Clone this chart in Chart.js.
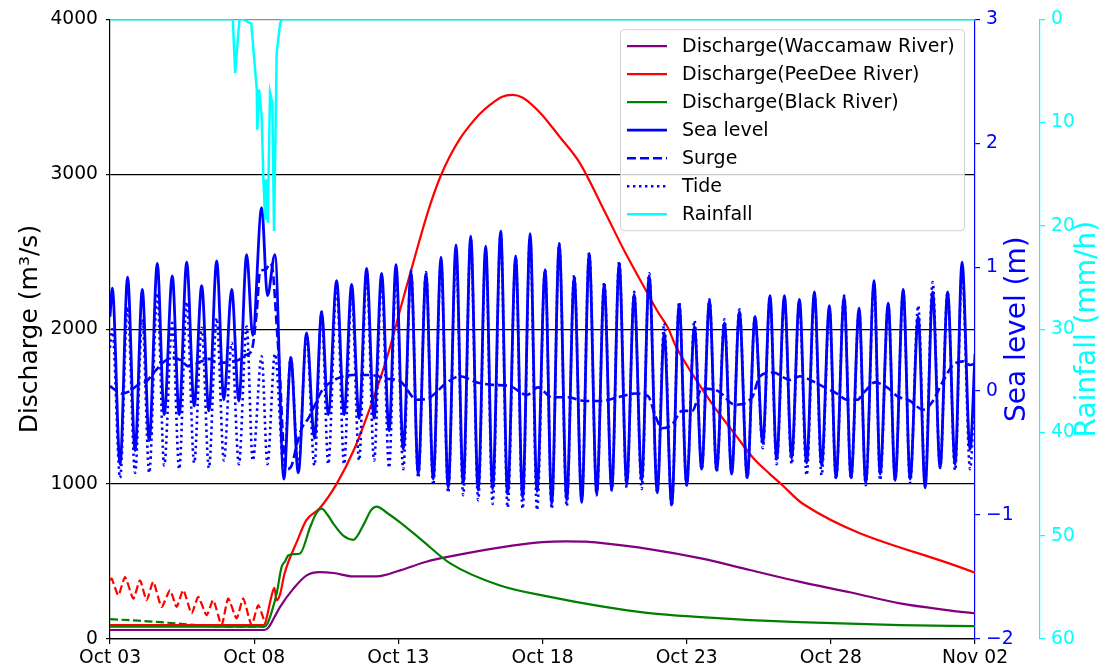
<!DOCTYPE html>
<html>
<head>
<meta charset="utf-8">
<script src="https://cdn.jsdelivr.net/npm/chart.js@4.4.1/dist/chart.umd.min.js"></script>
<style>
  html, body { margin: 0; padding: 0; background: #fff; }
  canvas { display: block; }
</style>
</head>
<body>
<canvas id="chart" width="1105" height="671"></canvas>
<script>
// Time axis: days after Oct 03 00:00
const xTickLabels = ['Oct 03', 'Oct 08', 'Oct 13', 'Oct 18', 'Oct 23', 'Oct 28', 'Nov 02'];

// River discharge (m3/s)
const waccT = [0, 5.35, 5.5, 5.7, 5.9, 6.36, 6.82, 7.28, 7.75, 8.44, 9.25, 10.06, 11.0, 11.8, 13.5, 15.0, 15.8, 16.5, 17.0, 18.7, 20.5, 22.2, 23.9, 25.7, 27.4, 29.1, 30];
const waccV = [58, 58, 75, 140, 207, 325, 411, 432, 426, 404, 404, 443, 500, 533, 590, 625, 630, 628, 620, 580, 520, 445, 370, 300, 230, 185, 165];

const peeDeeT = [0, 5.35, 5.45, 5.58, 5.70, 5.78, 5.90, 6.05, 6.50, 6.80, 7.28, 7.86, 8.44, 9.02, 9.60, 10.17, 10.75, 11.10, 11.45, 11.80, 12.14, 12.50, 12.83, 13.20, 13.60, 13.95, 14.30, 14.90, 15.60, 16.30, 17.17, 17.86, 18.55, 19.00, 19.36, 19.60, 20.29, 20.98, 21.68, 22.30, 22.89, 23.34, 24.04, 30];
const peeDeeV = [90, 90, 150, 260, 330, 250, 290, 420, 636, 764, 845, 1001, 1213, 1492, 1813, 2198, 2583, 2800, 2980, 3120, 3230, 3320, 3390, 3450, 3500, 3512, 3495, 3400, 3240, 3070, 2754, 2497, 2262, 2112, 2005, 1899, 1684, 1492, 1321, 1170, 1064, 989, 871, 427];

const peeDeeDashT = [0, 0.06, 0.29, 0.52, 0.81, 1.04, 1.27, 1.50, 1.79, 2.08, 2.31, 2.54, 2.83, 3.06, 3.35, 3.58, 3.87, 4.10, 4.39, 4.62, 4.91, 5.14, 5.38];
const peeDeeDashV = [380, 390, 282, 400, 261, 379, 250, 368, 207, 315, 207, 315, 165, 272, 154, 250, 90, 261, 133, 261, 90, 218, 100];

const blackT = [0, 5.35, 5.45, 5.6, 5.78, 5.95, 6.07, 6.18, 6.4, 6.59, 6.94, 7.15, 7.34, 7.55, 7.75, 8.1, 8.44, 8.8, 9.05, 9.25, 9.6, 10.06, 10.8, 11.8, 13.5, 15.3, 17.0, 18.7, 20.5, 22.2, 23.9, 27.4, 30];
const blackV = [79, 79, 95, 170, 293, 464, 500, 539, 548, 552, 721, 810, 841, 800, 743, 665, 640, 740, 830, 854, 815, 753, 640, 488, 347, 270, 212, 167, 141, 122, 109, 90, 83];

const blackDashT = [0, 1, 2, 3, 3.5, 5.35];
const blackDashV = [128, 118, 105, 90, 82, 79];

// Sea level and tide (m), sampled at high and low waters
const seaT = [0, 0.08, 0.35, 0.61, 0.87, 1.12, 1.36, 1.64, 1.88, 2.16, 2.40, 2.66, 2.92, 3.18, 3.43, 3.70, 3.95, 4.22, 4.47, 4.74, 4.95, 5.26, 5.46, 5.72, 6.03, 6.27, 6.53, 6.82, 7.09, 7.34, 7.57, 7.86, 8.12, 8.38, 8.64, 8.90, 9.16, 9.42, 9.68, 9.92, 10.17, 10.44, 10.69, 10.96, 11.21, 11.48, 11.73, 12.00, 12.25, 12.51, 12.77, 13.03, 13.27, 13.55, 13.79, 14.07, 14.31, 14.57, 14.81, 15.09, 15.32, 15.58, 15.84, 16.10, 16.36, 16.62, 16.88, 17.14, 17.40, 17.66, 17.92, 18.18, 18.44, 18.70, 18.98, 19.22, 19.48, 19.74, 20.00, 20.27, 20.52, 20.79, 21.04, 21.31, 21.56, 21.83, 22.10, 22.37, 22.64, 22.89, 23.12, 23.39, 23.64, 23.91, 24.16, 24.43, 24.68, 24.95, 25.18, 25.46, 25.70, 25.98, 26.21, 26.50, 26.71, 26.99, 27.23, 27.51, 27.75, 28.03, 28.27, 28.53, 28.79, 29.05, 29.31, 29.55, 29.83, 30];
const seaV = [0.60, 0.83, -0.59, 0.92, -0.48, 0.82, -0.40, 1.03, -0.19, 0.93, -0.19, 1.04, -0.12, 0.85, -0.16, 1.05, -0.07, 0.82, -0.08, 1.10, 0.45, 1.48, 0.77, 1.10, -0.71, 0.27, -0.66, 0.47, -0.38, 0.64, -0.19, 0.89, -0.19, 0.86, -0.22, 0.99, -0.22, 0.95, -0.32, 1.02, -0.47, 0.96, -0.67, 0.95, -0.71, 1.08, -0.78, 1.18, -0.75, 1.25, -0.80, 1.17, -0.79, 1.29, -0.83, 1.09, -0.86, 1.27, -0.81, 0.98, -0.91, 1.19, -0.88, 0.92, -0.90, 1.11, -0.83, 0.86, -0.80, 1.03, -0.75, 0.78, -0.72, 0.93, -0.82, 0.47, -0.92, 0.70, -0.76, 0.52, -0.63, 0.73, -0.64, 0.55, -0.67, 0.64, -0.70, 0.60, -0.42, 0.77, -0.55, 0.77, -0.54, 0.74, -0.58, 0.80, -0.60, 0.69, -0.70, 0.76, -0.70, 0.67, -0.74, 0.89, -0.67, 0.71, -0.72, 0.82, -0.71, 0.60, -0.78, 0.80, -0.62, 0.80, -0.59, 1.04, -0.47, 0.30];
const tideV = [0.35, 0.50, -0.70, 0.68, -0.66, 0.58, -0.66, 0.79, -0.60, 0.55, -0.63, 0.72, -0.58, 0.51, -0.62, 0.59, -0.56, 0.39, -0.59, 0.52, -0.56, 0.28, -0.59, 0.30, -0.62, 0.27, -0.62, 0.45, -0.60, 0.64, -0.59, 0.86, -0.59, 0.80, -0.56, 0.95, -0.56, 0.90, -0.62, 0.98, -0.63, 0.97, -0.70, 0.96, -0.76, 1.05, -0.82, 1.12, -0.84, 1.22, -0.88, 1.13, -0.91, 1.27, -0.94, 1.08, -0.95, 1.25, -0.96, 0.98, -0.95, 1.19, -0.93, 0.94, -0.88, 1.12, -0.84, 0.88, -0.80, 1.05, -0.78, 0.80, -0.79, 0.95, -0.82, 0.55, -0.93, 0.72, -0.76, 0.57, -0.63, 0.74, -0.65, 0.58, -0.66, 0.66, -0.70, 0.60, -0.46, 0.75, -0.59, 0.75, -0.59, 0.72, -0.68, 0.79, -0.68, 0.66, -0.71, 0.77, -0.71, 0.65, -0.76, 0.87, -0.72, 0.70, -0.72, 0.81, -0.74, 0.69, -0.75, 0.88, -0.62, 0.80, -0.64, 0.98, -0.63, 0.10];

// Storm surge (m)
const surgeT = [0, 0.23, 0.41, 0.69, 0.97, 1.27, 1.56, 1.84, 2.14, 2.45, 2.72, 3.18, 3.45, 3.70, 3.95, 4.22, 4.45, 4.68, 4.90, 5.09, 5.20, 5.40, 5.55, 5.65, 5.78, 5.90, 6.01, 6.13, 6.30, 6.48, 6.65, 6.88, 7.11, 7.34, 7.87, 8.43, 9.02, 9.61, 10.06, 10.65, 11.10, 11.69, 12.14, 12.73, 13.28, 13.87, 14.46, 14.84, 15.33, 15.88, 16.47, 17.06, 17.62, 18.21, 18.66, 18.90, 19.14, 19.49, 19.84, 20.19, 20.53, 21.09, 21.68, 22.27, 22.54, 23.00, 23.58, 23.93, 24.28, 24.62, 25.21, 25.56, 25.91, 26.19, 26.53, 26.95, 27.30, 27.75, 28.20, 28.51, 28.89, 29.24, 29.58, 29.83, 30];
const surgeV = [0.04, 0.00, -0.02, 0.00, 0.05, 0.08, 0.16, 0.23, 0.27, 0.25, 0.20, 0.24, 0.26, 0.23, 0.23, 0.24, 0.25, 0.29, 0.32, 0.64, 0.96, 0.98, 1.03, 0.96, 0.53, 0.10, -0.43, -0.63, -0.60, -0.43, -0.30, -0.22, -0.11, 0.00, 0.10, 0.13, 0.13, 0.10, 0.08, -0.07, -0.05, 0.07, 0.12, 0.07, 0.05, 0.04, -0.03, 0.03, -0.05, -0.05, -0.08, -0.08, -0.05, -0.02, -0.04, -0.19, -0.30, -0.27, -0.16, -0.16, 0.02, 0.00, -0.11, -0.05, 0.12, 0.15, 0.09, 0.12, 0.09, 0.05, -0.02, -0.07, -0.07, 0.00, 0.07, 0.03, -0.04, -0.08, -0.15, -0.09, 0.08, 0.21, 0.24, 0.21, 0.22];

// Rainfall (mm/h)
const rainT = [0, 4.26, 4.34, 4.49, 4.65, 4.80, 4.90, 4.97, 5.09, 5.11, 5.17, 5.26, 5.32, 5.38, 5.41, 5.47, 5.55, 5.63, 5.69, 5.78, 5.90, 5.96, 30];
const rainV = [0, 0, 5.2, 0, 0, 0.3, 0.4, 2.8, 6.8, 10.7, 6.8, 9.4, 15.5, 19.3, 15.5, 19.7, 7.1, 8.1, 20.5, 3.3, 0.4, 0, 0];

const legendOrder = ['Discharge(Waccamaw River)', 'Discharge(PeeDee River)', 'Discharge(Black River)', 'Sea level', 'Surge', 'Tide', 'Rainfall'];

function pairs(t, v) {
  const n = Math.min(t.length, v.length);
  const out = [];
  for (let i = 0; i < n; i++) out.push({ x: t[i], y: v[i] });
  return out;
}

const FONT = 'DejaVu Sans';
const BLUE = '#0000ff';
const CYAN = '#00ffff';

function line(label, t, v, color, axis, order, extra) {
  return Object.assign({
    label, data: pairs(t, v), yAxisID: axis, order,
    borderColor: color, backgroundColor: color, borderWidth: 2.2,
    pointRadius: 0, fill: false, cubicInterpolationMode: 'monotone'
  }, extra || {});
}

const datasets = [
  line('Rainfall', rainT, rainV, CYAN, 'y2', 0, { cubicInterpolationMode: 'default', tension: 0, borderWidth: 2.5 }),
  line('Tide', seaT, tideV, BLUE, 'y1', 1, { borderWidth: 2.6, borderDash: [2.4, 3.6] }),
  line('Surge', surgeT, surgeV, BLUE, 'y1', 2, { borderWidth: 2.6, borderDash: [9, 4] }),
  line('Sea level', seaT, seaV, BLUE, 'y1', 3, { borderWidth: 2.8 }),
  line('Discharge(Black River)', blackT, blackV, '#008000', 'y', 4),
  line('Discharge(PeeDee River)', peeDeeT, peeDeeV, '#ff0000', 'y', 5),
  line('Discharge(Waccamaw River)', waccT, waccV, '#800080', 'y', 6),
  line('PeeDee River, dashed', peeDeeDashT, peeDeeDashV, '#ff0000', 'y', 7, { borderDash: [8, 3.5], cubicInterpolationMode: 'default', tension: 0.2 }),
  line('Black River, dashed', blackDashT, blackDashV, '#008000', 'y', 8, { borderDash: [8, 3.5] })
];

// Framed legend drawn inside the plot area (upper right)
const boxLegend = {
  id: 'boxLegend',
  afterDraw(chart) {
    const ctx = chart.ctx;
    const area = chart.chartArea;
    const w = 344, rowH = 28, h = 201;
    const x0 = area.right - 11 - w, y0 = area.top + 10;
    ctx.save();
    ctx.beginPath();
    ctx.roundRect(x0 + 0.5, y0 + 0.5, w, h, 4);
    ctx.fillStyle = 'rgba(255,255,255,0.8)';
    ctx.fill();
    ctx.strokeStyle = 'rgba(204,204,204,0.9)';
    ctx.lineWidth = 1;
    ctx.stroke();
    ctx.font = '19px "' + FONT + '"';
    ctx.textBaseline = 'middle';
    ctx.textAlign = 'left';
    legendOrder.forEach((lbl, i) => {
      const ds = chart.data.datasets.find(d => d.label === lbl);
      const cy = y0 + 17 + i * rowH;
      ctx.beginPath();
      ctx.setLineDash(ds.borderDash || []);
      ctx.strokeStyle = ds.borderColor;
      ctx.lineWidth = ds.borderWidth;
      ctx.moveTo(x0 + 7, cy);
      ctx.lineTo(x0 + 47, cy);
      ctx.stroke();
      ctx.setLineDash([]);
      ctx.fillStyle = '#000';
      ctx.fillText(lbl, x0 + 62, cy + 1);
    });
    ctx.restore();
  }
};

// Axis titles, all reading bottom to top
const axisTitles = {
  id: 'axisTitles',
  afterDraw(chart) {
    const ctx = chart.ctx;
    const a = chart.chartArea;
    const cy = (a.top + a.bottom) / 2;
    const items = [
      { text: 'Discharge (m\u00b3/s)', x: 30, color: '#000', size: 25 },
      { text: 'Sea level (m)', x: a.right + 43, color: BLUE, size: 28 },
      { text: 'Rainfall (mm/h)', x: a.right + 113, color: CYAN, size: 28 }
    ];
    items.forEach(it => {
      ctx.save();
      ctx.translate(it.x, cy);
      ctx.rotate(-Math.PI / 2);
      ctx.font = it.size + 'px "' + FONT + '"';
      ctx.fillStyle = it.color;
      ctx.textAlign = 'center';
      ctx.textBaseline = 'middle';
      ctx.fillText(it.text, 0, 0);
      ctx.restore();
    });
  }
};

const tickFont = { family: FONT, size: 18.7 };
const signed = (v) => (v < 0 ? '\u2212' + Math.abs(v) : String(v));

new Chart(document.getElementById('chart'), {
  type: 'line',
  data: { datasets },
  plugins: [boxLegend, axisTitles],
  options: {
    responsive: false,
    animation: false,
    devicePixelRatio: 1,
    layout: { padding: { top: 16, left: 0, right: 0, bottom: 0 } },
    plugins: { legend: { display: false }, tooltip: { enabled: false } },
    scales: {
      x: {
        type: 'linear', position: 'bottom', min: 0, max: 30,
        ticks: {
          stepSize: 5, autoSkip: false, maxRotation: 0, font: tickFont, color: '#000', padding: 3,
          callback: (v) => xTickLabels[Math.round(v / 5)]
        },
        grid: { drawOnChartArea: false, drawTicks: true, tickLength: 5, color: '#000', lineWidth: 1.2 },
        border: { display: true, color: '#000', width: 1.2 },
        afterFit: (s) => { s.height = 32; }
      },
      y: {
        type: 'linear', position: 'left', min: 0, max: 4000,
        ticks: { stepSize: 1000, font: tickFont, color: '#000', padding: 8, callback: (v) => String(v) },
        grid: {
          drawTicks: true, tickLength: 4, tickColor: '#000', tickWidth: 1.2,
          color: (c) => (c.tick && c.tick.value === 4000) ? '#8c8c8c' : '#000',
          lineWidth: 1.2
        },
        border: { display: true, color: '#000', width: 1.2 },
        afterFit: (s) => { s.width = 110; }
      },
      y1: {
        type: 'linear', position: 'right', min: -2, max: 3, weight: 0,
        ticks: { stepSize: 1, font: tickFont, color: BLUE, padding: 6, callback: signed },
        grid: { drawOnChartArea: false, drawTicks: true, tickLength: 5, color: BLUE, lineWidth: 1.2 },
        border: { display: true, color: BLUE, width: 1.2 },
        afterFit: (s) => { s.width = 65; }
      },
      y2: {
        type: 'linear', position: 'right', min: 0, max: 60, reverse: true, weight: 1,
        ticks: { stepSize: 10, font: tickFont, color: CYAN, padding: 6, callback: (v) => String(v) },
        grid: { drawOnChartArea: false, drawTicks: true, tickLength: 5, color: CYAN, lineWidth: 1.2 },
        border: { display: true, color: CYAN, width: 1.2 },
        afterFit: (s) => { s.width = 65; }
      }
    }
  }
});
</script>
</body>
</html>
